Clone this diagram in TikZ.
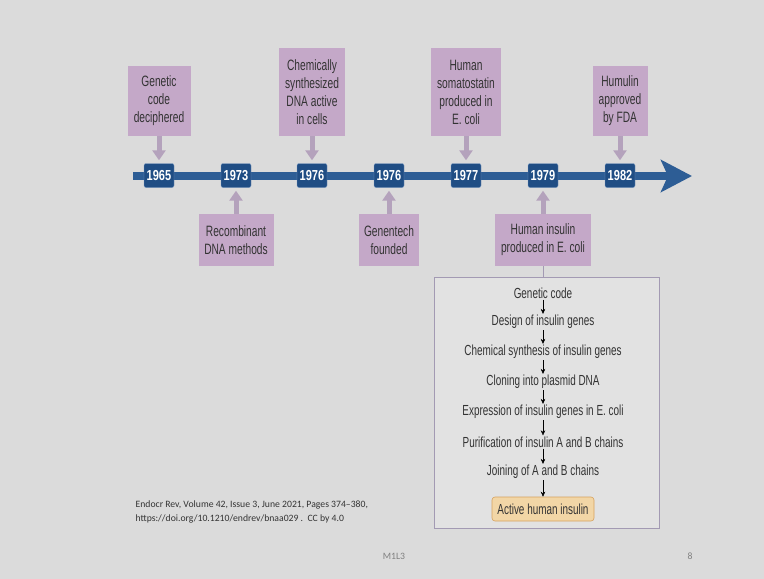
\documentclass[tikz,border=0pt]{standalone}
\usepackage{fontspec}
\setmainfont{Liberation Sans}[FakeStretch=0.68]
\newfontfamily\yearfont{Liberation Sans}[FakeStretch=0.76]
\newfontfamily\notefont{Carlito}
\usepackage{tikz}
\usetikzlibrary{positioning}
\usetikzlibrary{arrows.meta}
\definecolor{slideGray}{RGB}{219,219,219}
\definecolor{eventPurple}{HTML}{C4A8C8}
\definecolor{pointerPurple}{HTML}{B4A2BC}
\definecolor{timelineBlue}{HTML}{2D5D95}
\definecolor{yearBlue}{HTML}{1F4D84}
\definecolor{yearEdge}{HTML}{7C9CC4}
\definecolor{panelGray}{HTML}{E2E2E2}
\definecolor{panelEdge}{HTML}{A39AB3}
\definecolor{activeTan}{HTML}{F2D6A6}
\definecolor{activeEdge}{HTML}{D6A25E}
\definecolor{textGray}{HTML}{333333}
\tikzset{every picture/.style={semithick, >=Stealth}}
\tikzstyle{event}=[fill=eventPurple,text=textGray,align=center,font=\fontsize{15}{18}\selectfont,inner sep=2pt]
\tikzstyle{yearbox}=[fill=yearBlue,draw=yearEdge,thin,rounded corners=2pt,text=white,font=\yearfont\bfseries\fontsize{14.5}{16}\selectfont,minimum width=30pt,minimum height=24pt,inner sep=0pt]
\tikzstyle{pointer}=[line width=5pt,draw=pointerPurple,-{Triangle[length=10pt,width=13pt]}]
\tikzstyle{stage}=[text=textGray,font=\fontsize{14.6}{16}\selectfont,inner sep=1pt]
\tikzstyle{flow}=[thin,black,-{Stealth[length=5pt,width=4.5pt]}]
\tikzstyle{note}=[text=textGray,font=\notefont\fontsize{9.7}{14}\selectfont,align=left]

\begin{document}
\begin{tikzpicture}[x=1pt,y=-1pt]
        \fill [slideGray] (0,0) rectangle (764,579);
        \useasboundingbox (0,0) rectangle (764,579);
        \coordinate (tl start) at (133,176);
        \coordinate (tl end) at (692,176);
        \draw [line width=8pt,timelineBlue,-{Stealth[length=31pt,width=32pt,inset=7pt]}] (tl start) -- (tl end);
        \node [yearbox] (y65) at (159,175.5) {1965};
        \node [yearbox] (y73) at (236,175.5) {1973};
        \node [yearbox] (y76a) at (312,175.5) {1976};
        \node [yearbox] (y76b) at (389,175.5) {1976};
        \node [yearbox] (y77) at (466,175.5) {1977};
        \node [yearbox] (y79) at (543,175.5) {1979};
        \node [yearbox] (y82) at (620,175.5) {1982};
        \node [event,minimum width=63pt,minimum height=70pt] (code) at (159,101) {Genetic\\code\\deciphered};
        \node [event,minimum width=66pt,minimum height=88pt] (chem) at (312,92) {Chemically\\synthesized\\DNA active\\in cells};
        \node [event,minimum width=70pt,minimum height=88pt] (soma) at (466,92) {Human\\somatostatin\\produced in\\E. coli};
        \node [event,minimum width=55pt,minimum height=70pt] (humulin) at (620,101) {Humulin\\approved\\by FDA};
        \node [event,minimum width=75pt,minimum height=52pt] (recomb) at (236,240) {Recombinant\\DNA methods};
        \node [event,minimum width=60pt,minimum height=52pt] (genentech) at (389,240) {Genentech\\founded};
        \node [event,minimum width=96pt,minimum height=52pt] (insulin) at (543,240) {Human insulin\\produced in E. coli};
        \draw [pointer,shorten >=3pt] (code) -- (y65);
        \draw [pointer,shorten >=3pt] (chem) -- (y76a);
        \draw [pointer,shorten >=3pt] (soma) -- (y77);
        \draw [pointer,shorten >=3pt] (humulin) -- (y82);
        \draw [pointer,shorten >=3pt] (recomb) -- (y73);
        \draw [pointer,shorten >=3pt] (genentech) -- (y76b);
        \draw [pointer,shorten >=3pt] (insulin) -- (y79);
        \node [draw=panelEdge,fill=panelGray,minimum width=225pt,minimum height=251pt] (panel) at (546.5,402.5) {};
        \draw [panelEdge] (insulin.south) -- (insulin.south |- panel.north);
        \node [stage] (gcode) at (543,293) {Genetic code};
        \node [stage] (design) at (543,322) {Design of insulin genes};
        \node [stage] (synth) at (543,352) {Chemical synthesis of insulin genes};
        \node [stage] (cloning) at (543,382) {Cloning into plasmid DNA};
        \node [stage] (express) at (543,412) {Expression of insulin genes in E. coli};
        \node [stage] (purify) at (543,442) {Purification of insulin A and B chains};
        \node [stage] (join) at (543,472) {Joining of A and B chains};
        \node [stage,fill=activeTan,draw=activeEdge,rounded corners=3pt,minimum width=102pt,minimum height=24pt] (active) at (543,509) {Active human insulin};
        \draw [flow] (gcode) -- (design);
        \draw [flow] (design) -- (synth);
        \draw [flow] (synth) -- (cloning);
        \draw [flow] (cloning) -- (express);
        \draw [flow] (express) -- (purify);
        \draw [flow] (purify) -- (join);
        \draw [flow] (join) -- (active);
        \node [note,anchor=west] (ref) at (132,512) {Endocr Rev, Volume 42, Issue 3, June 2021, Pages 374–380,\\https://doi.org/10.1210/endrev/bnaa029 .\ \ CC by 4.0};
        \node [note,text=gray] (foot) at (394,556) {M1L3};
        \node [note,text=gray] (page) at (690,556) {8};
\end{tikzpicture}
\end{document}
